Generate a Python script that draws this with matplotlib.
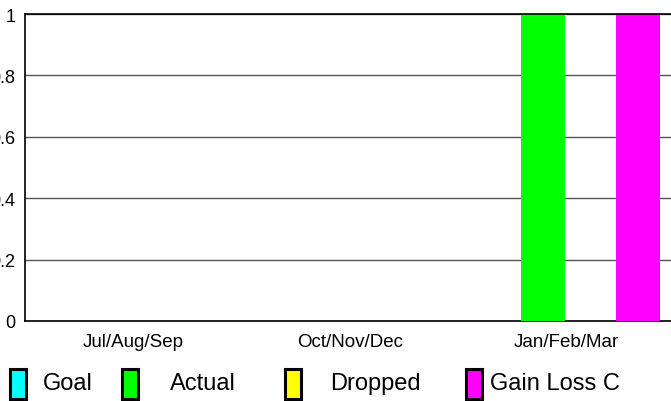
import numpy as np
import matplotlib
matplotlib.use('Agg')
import matplotlib.pyplot as plt
from matplotlib.patches import Rectangle

plt.rcParams['font.family'] = ['Liberation Sans', 'DejaVu Sans']

quarters = ['Jul/Aug/Sep', 'Oct/Nov/Dec', 'Jan/Feb/Mar']
series = ['Goal', 'Actual', 'Dropped', 'Gain Loss C']
goal = [0, 0, 0]
actual = [0, 0, 1]
dropped = [0, 0, 0]
gain_loss = [0, 0, 1]
colors = ['#00ffff', '#00ff00', '#ffff00', '#ff00ff']

W, H = 671, 402
fig = plt.figure(figsize=(W / 100, H / 100), dpi=100)
# plot area runs past the right edge of the picture, like the original
ax = fig.add_axes([25 / W, (H - 322) / H, 650 / W, (322 - 15) / H])

x = np.arange(len(quarters))
step = 0.22
width = 0.204
for i, (vals, c) in enumerate(zip([goal, actual, dropped, gain_loss], colors)):
    ax.bar(x + (i - 1.5) * step, vals, width=width, color=c, zorder=3)

ax.set_xlim(-0.5, 2.5)
ax.set_ylim(0, 1)
ax.set_yticks([0, 0.2, 0.4, 0.6, 0.8, 1.0])
ax.set_yticklabels(['0', '0.2', '0.4', '0.6', '0.8', '1'], fontsize=13)
ax.set_xticks(x)
ax.set_xticklabels(quarters, fontsize=13.5)
ax.tick_params(axis='both', length=0)
ax.tick_params(axis='y', pad=7)
ax.tick_params(axis='x', pad=9)
ax.yaxis.grid(True, color='#555555', linewidth=1.0, zorder=0)
for s in ['top', 'left', 'bottom', 'right']:
    ax.spines[s].set_color('black')
    ax.spines[s].set_linewidth(1.2)
ax.spines['top'].set_zorder(4)

# legend drawn by hand to follow the uneven spacing
patch_x = [10, 122, 285, 466]
text_x = [43, 170, 330, 490]
for px, tx, name, c in zip(patch_x, text_x, series, colors):
    fig.patches.append(Rectangle((px / W, (H - 400) / H), 16 / W, 30 / H,
                                 transform=fig.transFigure, facecolor=c,
                                 edgecolor='black', linewidth=2.2))
    fig.text(tx / W, (H - 384) / H, name, fontsize=17, va='center', ha='left')

fig.savefig('out.png', dpi=100)
